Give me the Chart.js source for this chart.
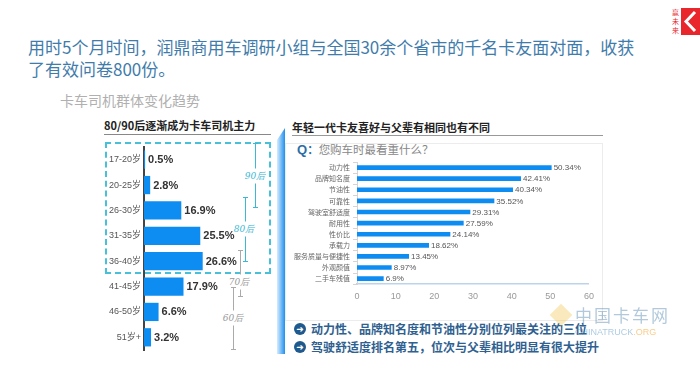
<!DOCTYPE html>
<html>
<head>
<meta charset="utf-8">
<script src="https://cdn.jsdelivr.net/npm/chart.js@4/dist/chart.umd.min.js"></script>
<style>
  body { margin: 0; background: #fff; }
  #page { position: relative; width: 700px; height: 377px; overflow: hidden; font-family: "Noto Sans CJK SC", sans-serif; }
  .abs { position: absolute; white-space: nowrap; }
  canvas { position: absolute; }
  .era { position: absolute; width: 1px; }
  .era::before, .era::after { content: ''; position: absolute; left: -2px; width: 5px; height: 1px; background: inherit; }
  .era::before { top: 0; }
  .era::after { bottom: 0; }
  .eraLabel { position: absolute; font: italic 9px "DejaVu Serif", serif; background: #fff; padding: 1px 0; transform: translate(-50%, -50%); }
  .bullet { position: absolute; width: 12px; height: 12px; border-radius: 50%; background: #1f5a8f; color: #fff; font: bold 9px "DejaVu Sans", sans-serif; line-height: 12px; text-align: center; }
</style>
</head>
<body>
<div id="page">
  <div class="abs" style="left:28px;top:36px;font-size:17px;line-height:22px;color:#3f7cab;">用时5个月时间，润鼎商用车调研小组与全国30余个省市的千名卡友面对面，收获<br>了有效问卷800份。</div>
  <div class="abs" style="left:60px;top:92px;font-size:14px;line-height:16px;color:#b0b0b0;">卡车司机群体变化趋势</div>

  <!-- logo -->
  <div class="abs" style="left:672px;top:8px;width:7px;font-size:7px;line-height:9px;color:#e8262b;white-space:normal;">赢未来</div>
  <svg class="abs" style="left:681px;top:8px" width="19" height="27" viewBox="0 0 19 27">
    <rect x="0" y="0" width="19" height="27" fill="#e8262b"/>
    <polyline points="14,4 5,13.5 14,23" fill="none" stroke="#fff" stroke-width="3"/>
  </svg>

  <!-- left panel -->
  <div class="abs" style="left:104px;top:118px;font-size:11px;font-weight:bold;line-height:14px;color:#222;">80/90后逐渐成为卡车司机主力</div>
  <div class="abs" style="left:104px;top:134px;width:167px;height:1px;background:#888;"></div>
  <div class="abs" style="left:105px;top:142px;width:166px;height:132px;border:2px dashed #47c1d9;box-sizing:border-box;"></div>

  <div class="era" style="left:255px;top:143px;height:65px;background:#3bb8d3;"></div>
  <div class="eraLabel" style="left:255px;top:176px;color:#3bb8d3;">90后</div>
  <div class="era" style="left:245px;top:197px;height:65px;background:#3bb8d3;"></div>
  <div class="eraLabel" style="left:244px;top:229px;color:#3bb8d3;">80后</div>
  <div class="era" style="left:240px;top:250px;height:47px;background:#aaa;"></div>
  <div class="eraLabel" style="left:239px;top:282px;color:#999;">70后</div>
  <div class="era" style="left:233px;top:287px;height:63px;background:#aaa;"></div>
  <div class="eraLabel" style="left:233px;top:318px;color:#999;">60后</div>

  <canvas id="ageChart" style="left:100px;top:137px;" width="172" height="223"></canvas>

  <!-- right panel -->
  <div class="abs" style="left:277px;top:128px;width:8px;height:226px;background:linear-gradient(to right,#d6ecfd,#1e8ff0);clip-path:polygon(0 12px,100% 0,100% 100%,0 100%);"></div>
  <div class="abs" style="left:285px;top:143px;width:318px;height:178px;border:1px solid #ececec;box-sizing:border-box;"></div>
  <div class="abs" style="left:292px;top:120px;font-size:11px;font-weight:bold;line-height:14px;color:#222;">年轻一代卡友喜好与父辈有相同也有不同</div>
  <div class="abs" style="left:292px;top:135px;width:311px;height:1px;background:#999;"></div>
  <div class="abs" style="left:297px;top:141px;line-height:16px;color:#888;font-size:11.5px;"><span style="font:bold 13px 'Liberation Sans',sans-serif;color:#2b6ea6;">Q</span><span style="color:#2b6ea6;font-weight:bold;">：</span>您购车时最看重什么？</div>

  <canvas id="factorChart" style="left:280px;top:152px;" width="321" height="159"></canvas>

  <div class="bullet" style="left:294px;top:323px;">➜</div>
  <div class="abs" style="left:311px;top:321px;font-size:12px;font-weight:bold;line-height:16px;color:#2f6190;">动力性、品牌知名度和节油性分别位列最关注的三位</div>
  <div class="bullet" style="left:294px;top:341px;">➜</div>
  <div class="abs" style="left:311px;top:339px;font-size:12px;font-weight:bold;line-height:16px;color:#2f6190;">驾驶舒适度排名第五，位次与父辈相比明显有很大提升</div>

  <!-- watermark -->
  <div class="abs" style="left:553px;top:307px;width:16px;height:16px;background:rgba(240,200,90,0.4);transform:rotate(45deg);"></div>
  <div class="abs" style="left:575px;top:305px;font-size:17px;line-height:20px;color:rgba(60,120,165,0.4);letter-spacing:2px;">中国卡车网</div>
  <div class="abs" style="left:575px;top:327px;font:9px 'Liberation Sans',sans-serif;color:rgba(70,140,190,0.45);">CHINATRUCK<span style="color:rgba(245,170,60,0.6)">.ORG</span></div>
</div>

<script>
// Age distribution (left)
const ageGroups = ['17-20岁', '20-25岁', '26-30岁', '31-35岁', '36-40岁', '41-45岁', '46-50岁', '51岁+'];
const ageShare = [0.5, 2.8, 16.9, 25.5, 26.6, 17.9, 6.6, 3.2];

// Purchase factors (right)
const factors = ['动力性', '品牌知名度', '节油性', '可靠性', '驾驶室舒适度', '耐用性', '性价比', '承载力', '服务质量与便捷性', '外观颜值', '二手车残值'];
const factorShare = [50.34, 42.41, 40.34, 35.52, 29.31, 27.59, 24.14, 18.62, 13.45, 8.97, 6.9];
const factorTicks = [0, 10, 20, 30, 40, 50, 60];

const latin = '"Liberation Sans", "Noto Sans CJK SC", sans-serif';
Chart.defaults.font.family = latin;
Chart.defaults.animation = false;

// draws "xx%" just right of each bar
const valueLabels = {
    id: 'valueLabels',
    afterDatasetsDraw(chart, args, opts) {
        const ctx = chart.ctx;
        const meta = chart.getDatasetMeta(0);
        const data = chart.data.datasets[0].data;
        ctx.save();
        ctx.font = opts.font;
        ctx.fillStyle = opts.color;
        ctx.textBaseline = 'middle';
        meta.data.forEach((bar, i) => {
            ctx.fillText(data[i] + '%', bar.x + opts.offset, bar.y + 0.5);
        });
        ctx.restore();
    }
};

document.addEventListener('DOMContentLoaded', () => {
    new Chart(document.getElementById('ageChart'), {
        type: 'bar',
        data: {
            labels: ageGroups,
            datasets: [{
                data: ageShare,
                backgroundColor: '#0d8df2',
                barPercentage: 0.72,
                categoryPercentage: 1
            }]
        },
        options: {
            indexAxis: 'y',
            responsive: false,
            layout: { padding: { top: 10, bottom: 10, left: 0, right: 0 } },
            plugins: {
                legend: { display: false },
                tooltip: { enabled: false },
                valueLabels: { font: 'bold 11px ' + latin, color: '#333', offset: 3 }
            },
            scales: {
                x: { display: false, min: 0, max: 58 },
                y: {
                    afterFit(s) { s.width = 44; },
                    grid: { display: false, drawTicks: false },
                    border: { color: '#444', width: 2 },
                    ticks: { color: '#555', font: { size: 9 }, padding: 3, autoSkip: false }
                }
            }
        },
        plugins: [valueLabels]
    });

    new Chart(document.getElementById('factorChart'), {
        type: 'bar',
        data: {
            labels: factors,
            datasets: [{
                data: factorShare,
                backgroundColor: '#0d8df2',
                barPercentage: 0.42,
                categoryPercentage: 1
            }]
        },
        options: {
            indexAxis: 'y',
            responsive: false,
            layout: { padding: { top: 10, bottom: 2, left: 0, right: 8 } },
            plugins: {
                legend: { display: false },
                tooltip: { enabled: false },
                valueLabels: { font: '8px ' + latin, color: '#555', offset: 2 }
            },
            scales: {
                x: {
                    min: 0,
                    max: 60,
                    afterBuildTicks(s) { s.ticks = factorTicks.map(v => ({ value: v })); },
                    grid: { display: false, drawTicks: false },
                    border: { color: '#bcd3ea', width: 1.5 },
                    ticks: { color: '#999', font: { size: 9 }, padding: 7 }
                },
                y: {
                    afterFit(s) { s.width = 77; },
                    grid: { drawOnChartArea: false, drawTicks: true, tickLength: 4, color: '#d4d4d4' },
                    border: { color: '#d4d4d4', width: 1 },
                    ticks: { color: '#666', font: { size: 7, family: '"Noto Sans CJK SC", sans-serif' }, padding: 3, autoSkip: false }
                }
            }
        },
        plugins: [valueLabels]
    });
});
</script>
</body>
</html>
